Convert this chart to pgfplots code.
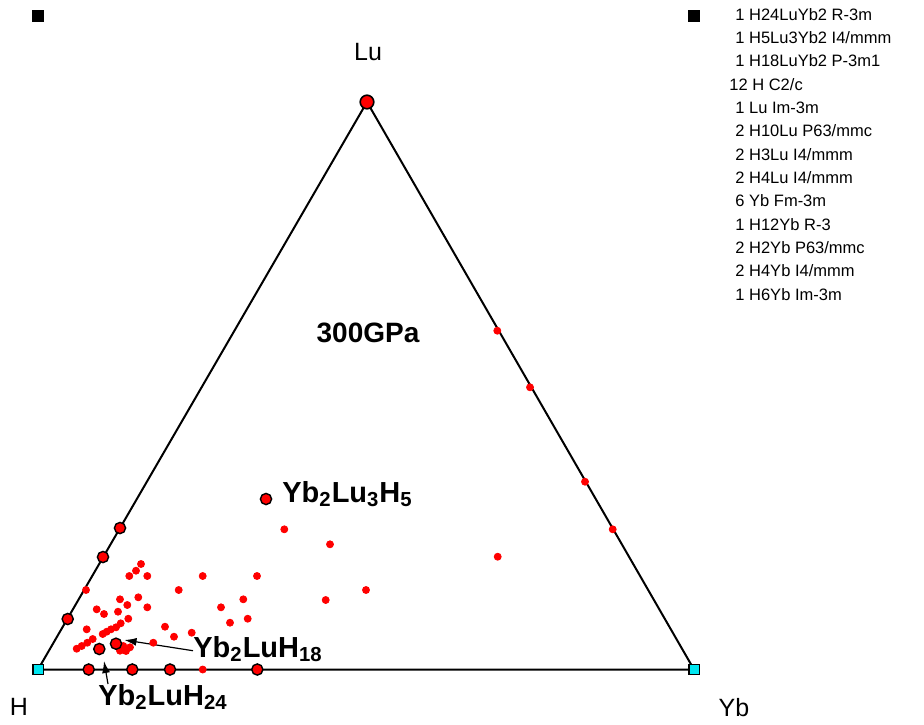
\documentclass[border=0pt]{standalone}
\usepackage{fontspec}
\setmainfont{Liberation Sans}
\usepackage{pgfplots}
\pgfplotsset{compat=1.18}
\usetikzlibrary{arrows.meta}
\definecolor{cy}{RGB}{0,230,240}
\begin{document}
\begin{tikzpicture}
\begin{axis}[scale only axis, width=462pt, height=362pt,
  xmin=0, xmax=924, ymin=0, ymax=724, y dir=reverse,
  hide axis, clip=false]
\path (axis cs:0,0) rectangle (axis cs:924,724);
% triangle
\addplot[black, line width=1pt, line join=round, mark=none] coordinates {(38,669.5) (694,669.5) (367,102) (38,669.5)};
% small red dots
\addplot[only marks, mark=*, mark size=1.75pt, mark options={draw=red, fill=red}] coordinates {
(141,564) (136,570.7) (129.3,576) (147.3,576) (202.7,576) (257,576) (86,590) (178.7,590)
(120,599.3) (138.3,597.3) (243.3,599.3) (127.3,605) (147.3,607.3) (221,607.3) (96.7,609.3)
(104,614) (118,611.7) (128.3,618.7) (247.7,618.7) (230,622.7) (120.7,623.3) (116,627.3)
(111,629.3) (106.7,631.7) (102.7,634) (86.7,629.3) (165,626.7) (191.7,632.7) (174,636.7)
(153.3,642.7) (92.7,639) (87.3,642.7) (81.7,646) (76.7,648.7) (123.3,646) (120,650.7)
(130,647.3) (126,651)
(284.3,529.3) (330,544.3) (497.7,556.7) (366,590) (325.7,600)
(497.3,330.7) (530,387.3) (585,481.7) (612.7,529.3) (202.7,669.5)
};
% hull points
\addplot[only marks, mark=*, mark size=2.8pt, mark options={draw=black, fill=red, line width=0.7pt}] coordinates {
(120,528) (103,557) (67.7,619) (266,499) (116,643.7) (99.3,649)
(88.7,669.5) (132.3,669.5) (170,669.5) (257.3,669.5)
};
\addplot[only marks, mark=*, mark size=3.4pt, mark options={draw=black, fill=red, line width=0.8pt}] coordinates {(367,102)};
% corner squares
\addplot[only marks, mark=square*, mark size=2.6pt, mark options={draw=black, fill=cy, line width=0.7pt}] coordinates {(38,669.5) (694,669.5)};
\addplot[only marks, mark=square*, mark size=2.8pt, mark options={draw=black, fill=black}] coordinates {(38,16) (694,16)};
% arrows
\draw[-{Latex[length=6pt,width=4pt]}, line width=0.6pt] (axis cs:193,650.7) -- (axis cs:124.5,640);
\draw[-{Latex[length=6pt,width=4pt]}, line width=0.6pt] (axis cs:108,684) -- (axis cs:104,661);
% labels
\node[font=\fontsize{12.5}{14}\selectfont] at (axis cs:368,52) {Lu};
\node[font=\fontsize{12.5}{14}\selectfont] at (axis cs:19,707) {H};
\node[font=\fontsize{12.5}{14}\selectfont] at (axis cs:734,707.5) {Yb};
\node[font=\fontsize{14}{16}\selectfont\bfseries] at (axis cs:368,333) {300GPa};
\node[font=\fontsize{14.5}{16}\selectfont\bfseries, anchor=base west, inner sep=0pt] at (axis cs:282,502) {Yb\textsubscript{2}Lu\textsubscript{3}H\textsubscript{5}};
\node[font=\fontsize{14.5}{16}\selectfont\bfseries, anchor=base west, inner sep=0pt] at (axis cs:193,657) {Yb\textsubscript{2}LuH\textsubscript{18}};
\node[font=\fontsize{14.5}{16}\selectfont\bfseries, anchor=base west, inner sep=0pt] at (axis cs:98,705) {Yb\textsubscript{2}LuH\textsubscript{24}};
% legend text
\tikzset{lg/.style={font=\fontsize{8.25}{10}\selectfont, anchor=base west, inner sep=0pt}}
\node[lg] at (axis cs:735,20) {1 H24LuYb2 R-3m};
\node[lg] at (axis cs:735,43.35) {1 H5Lu3Yb2 I4/mmm};
\node[lg] at (axis cs:735,66.7) {1 H18LuYb2 P-3m1};
\node[lg] at (axis cs:729,90.05) {12 H C2/c};
\node[lg] at (axis cs:735,113.4) {1 Lu Im-3m};
\node[lg] at (axis cs:735,136.75) {2 H10Lu P63/mmc};
\node[lg] at (axis cs:735,160.1) {2 H3Lu I4/mmm};
\node[lg] at (axis cs:735,183.45) {2 H4Lu I4/mmm};
\node[lg] at (axis cs:735,206.8) {6 Yb Fm-3m};
\node[lg] at (axis cs:735,230.15) {1 H12Yb R-3};
\node[lg] at (axis cs:735,253.5) {2 H2Yb P63/mmc};
\node[lg] at (axis cs:735,276.85) {2 H4Yb I4/mmm};
\node[lg] at (axis cs:735,300.2) {1 H6Yb Im-3m};
\end{axis}
\end{tikzpicture}
\end{document}
